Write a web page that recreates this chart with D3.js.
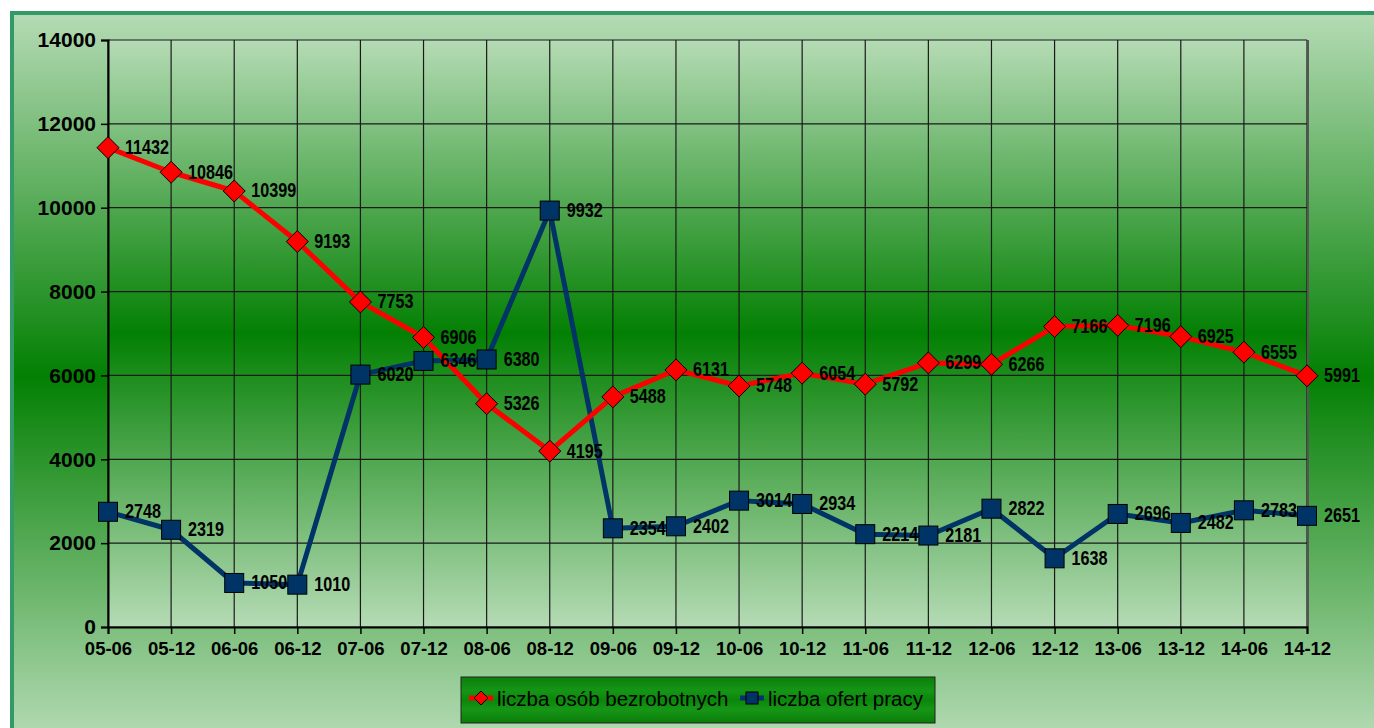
<!DOCTYPE html>
<html lang="pl">
<head>
<meta charset="UTF-8">
<title>Bezrobotni i oferty pracy</title>
<style>
  *{margin:0;padding:0}
  body{background:#fff;width:1374px;height:728px;overflow:hidden;font-family:'Liberation Sans',Arial,sans-serif}
  svg{display:block}
</style>
<script src="https://d3js.org/d3.v7.min.js"></script>
</head>
<body>
<div id="chart"></div>
<script>
/* ---------- DATA ---------- */
const categories = ['05-06','05-12','06-06','06-12','07-06','07-12','08-06','08-12','09-06','09-12',
                    '10-06','10-12','11-06','11-12','12-06','12-12','13-06','13-12','14-06','14-12'];
const bezrobotni = [11432,10846,10399,9193,7753,6906,5326,4195,5488,6131,
                    5748,6054,5792,6299,6266,7166,7196,6925,6555,5991];
const oferty     = [2748,2319,1050,1010,6020,6346,6380,9932,2354,2402,
                    3014,2934,2214,2181,2822,1638,2696,2482,2783,2651];
const yTicks     = [0,2000,4000,6000,8000,10000,12000,14000];
const seriesNames = ['liczba osób bezrobotnych','liczba ofert pracy'];

/* ---------- SETUP ---------- */
const W = 1374, H = 728;
const plot = {left:108, right:1307, top:40, bottom:627};
const RED = '#ff0000', NAVY = '#003366';

const svg = d3.select('#chart').append('svg').attr('width',W).attr('height',H);
const defs = svg.append('defs');

function vGrad(id, y1, y2){
  const g = defs.append('linearGradient').attr('id',id)
    .attr('gradientUnits','userSpaceOnUse').attr('x1',0).attr('x2',0).attr('y1',y1).attr('y2',y2);
  g.append('stop').attr('offset','0%').attr('stop-color','#b5dbb5');
  g.append('stop').attr('offset','50%').attr('stop-color','#038003');
  g.append('stop').attr('offset','100%').attr('stop-color','#b5dbb5');
}
vGrad('bgGrad', 13, 740);
vGrad('plotGrad', plot.top, plot.bottom);

const lg = defs.append('linearGradient').attr('id','legGrad').attr('x1',0).attr('x2',0).attr('y1',0).attr('y2',1);
[['0%','#0a7f0a'],['30%','#159515'],['50%','#0b860b'],['70%','#169616'],['100%','#0a7d0a']]
  .forEach(([o,c])=>lg.append('stop').attr('offset',o).attr('stop-color',c));

/* background frame */
svg.append('rect').attr('x',12).attr('y',13).attr('width',W).attr('height',H)
   .attr('fill','url(#bgGrad)').attr('stroke','#339966').attr('stroke-width',4);

/* plot area */
svg.append('rect').attr('x',plot.left).attr('y',plot.top)
   .attr('width',plot.right-plot.left).attr('height',plot.bottom-plot.top)
   .attr('fill','url(#plotGrad)');

/* ---------- SCALES ---------- */
const x = d3.scalePoint().domain(categories).range([plot.left, plot.right]);
const y = d3.scaleLinear().domain([0,14000]).range([plot.bottom, plot.top]);

/* grid */
const grid = svg.append('g').attr('stroke','#1a1a1a').attr('stroke-width',1.2);
grid.selectAll('line.h').data(yTicks).join('line')
  .attr('x1',plot.left).attr('x2',plot.right).attr('y1',d=>y(d)).attr('y2',d=>y(d));
grid.selectAll('line.v').data(categories).join('line')
  .attr('x1',d=>x(d)).attr('x2',d=>x(d)).attr('y1',plot.top).attr('y2',plot.bottom);
svg.append('line').attr('x1',plot.right+1).attr('x2',plot.right+1).attr('y1',plot.top).attr('y2',plot.bottom)
   .attr('stroke','#555').attr('stroke-width',2);

/* axes */
const yAxis = svg.append('g').attr('transform',`translate(${plot.left},0)`)
  .call(d3.axisLeft(y).tickValues(yTicks).tickSize(7).tickPadding(5).tickFormat(d3.format('d')));
const xAxis = svg.append('g').attr('transform',`translate(0,${plot.bottom})`)
  .call(d3.axisBottom(x).tickSize(7).tickPadding(8));
[yAxis,xAxis].forEach(a=>{
  a.select('.domain').attr('stroke','#000').attr('stroke-width',2);
  a.selectAll('.tick line').attr('stroke','#000').attr('stroke-width',1.5);
  a.selectAll('text').attr('fill','#000').attr('font-weight','bold')
   .attr('font-family',"'Liberation Sans',Arial,sans-serif");
});
yAxis.selectAll('text').attr('font-size',21);
xAxis.selectAll('text').attr('font-size',18.5);

/* ---------- SERIES ---------- */
const line = d3.line().x((d,i)=>x(categories[i])).y(d=>y(d));
svg.append('path').datum(oferty).attr('d',line).attr('fill','none')
   .attr('stroke',NAVY).attr('stroke-width',5).attr('stroke-linejoin','round');
svg.append('path').datum(bezrobotni).attr('d',line).attr('fill','none')
   .attr('stroke',RED).attr('stroke-width',5).attr('stroke-linejoin','round');

const diamond = 'M0,-11L11,0L0,11L-11,0Z';
svg.append('g').selectAll('path').data(bezrobotni).join('path')
  .attr('d',diamond).attr('transform',(d,i)=>`translate(${x(categories[i])},${y(d)})`)
  .attr('fill',RED).attr('stroke','#000').attr('stroke-width',1);
svg.append('g').selectAll('rect').data(oferty).join('rect')
  .attr('x',(d,i)=>x(categories[i])-9.5).attr('y',d=>y(d)-9.5)
  .attr('width',19).attr('height',19)
  .attr('fill',NAVY).attr('stroke','#000').attr('stroke-width',1);

/* data labels (slightly condensed, as in the original) */
function labels(data){
  svg.append('g').selectAll('text').data(data).join('text')
    .attr('transform',(d,i)=>`translate(${x(categories[i])+17},${y(d)+6.5}) scale(0.83,1)`)
    .attr('font-size',19.5).attr('font-weight','bold').attr('fill','#000')
    .text(d=>d);
}
labels(bezrobotni);
labels(oferty);

/* ---------- LEGEND ---------- */
const leg = svg.append('g').attr('transform','translate(461,677)');
leg.append('rect').attr('width',474).attr('height',46)
   .attr('fill','url(#legGrad)').attr('stroke','#222').attr('stroke-width',1);
const items = [
  {name:seriesNames[0], color:RED,  x:8,   w:24, text:36},
  {name:seriesNames[1], color:NAVY, x:279, w:24, text:307}
];
items.forEach((it,k)=>{
  leg.append('line').attr('x1',it.x).attr('x2',it.x+it.w).attr('y1',21).attr('y2',21)
     .attr('stroke',it.color).attr('stroke-width',5);
  if(k===0){
    leg.append('path').attr('d','M0,-7L7,0L0,7L-7,0Z').attr('transform',`translate(${it.x+12},21)`)
       .attr('fill',RED).attr('stroke','#000').attr('stroke-width',1);
  }else{
    leg.append('rect').attr('x',it.x+6).attr('y',15).attr('width',12).attr('height',12)
       .attr('fill',NAVY).attr('stroke','#000').attr('stroke-width',1);
  }
  leg.append('text').attr('x',it.text).attr('y',29).attr('font-size',20.5).attr('fill','#000')
     .text(it.name);
});
</script>
</body>
</html>
